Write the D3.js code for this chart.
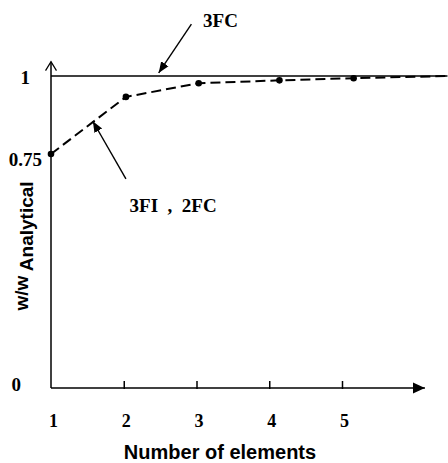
<!DOCTYPE html>
<html>
<head>
<meta charset="utf-8">
<script src="https://cdn.jsdelivr.net/npm/d3@7"></script>
<style>
  body { margin: 0; background: #fff; }
  .serif { font-family: "Liberation Serif", "Times New Roman", serif; font-weight: bold; }
  .sans { font-family: "Liberation Sans", Arial, sans-serif; font-weight: bold; }
</style>
</head>
<body>
<div id="chart"></div>
<script>
// values
var xTicks = [1, 2, 3, 4, 5];
var yTicks = [0, 0.75, 1];
var elements = [1, 2.03, 3.03, 4.14, 5.16];
var ratio3FI = [0.75, 0.933, 0.977, 0.986, 0.993];
var tailElement = 6.45;
var tailRatio = 1.0;
var ratio3FC = [1, 1];
var elements3FC = [1, 6.45];

var width = 448, height = 463;

var svg = d3.select("#chart")
    .append("svg")
    .attr("width", width)
    .attr("height", height);

var x = d3.scaleLinear().domain([1, 5]).range([51, 342]);
var y = d3.scaleLinear().domain([0, 1]).range([388, 76]);

var defs = svg.append("defs");
defs.append("marker")
    .attr("id", "filled")
    .attr("viewBox", "0 0 10 10")
    .attr("refX", 10).attr("refY", 5)
    .attr("markerWidth", 11).attr("markerHeight", 11)
    .attr("markerUnits", "userSpaceOnUse")
    .attr("orient", "auto")
    .append("path")
    .attr("d", "M0,1 L10,5 L0,9 Z")
    .attr("fill", "#000");
defs.append("marker")
    .attr("id", "bigfilled")
    .attr("viewBox", "0 0 12 12")
    .attr("refX", 12).attr("refY", 6)
    .attr("markerWidth", 12).attr("markerHeight", 12)
    .attr("markerUnits", "userSpaceOnUse")
    .attr("orient", "auto")
    .append("path")
    .attr("d", "M0,0.5 L12,6 L0,11.5 Z")
    .attr("fill", "#000");
defs.append("marker")
    .attr("id", "open")
    .attr("viewBox", "0 0 12 12")
    .attr("refX", 10).attr("refY", 6)
    .attr("markerWidth", 12).attr("markerHeight", 12)
    .attr("markerUnits", "userSpaceOnUse")
    .attr("orient", "auto")
    .append("path")
    .attr("d", "M1,0.5 L10,6 L1,11.5")
    .attr("fill", "none")
    .attr("stroke", "#000")
    .attr("stroke-width", 1.3);

// axis lines with arrows
svg.append("line")
    .attr("x1", x(1)).attr("y1", y(0))
    .attr("x2", x(1)).attr("y2", y(1.046))
    .attr("stroke", "#000").attr("stroke-width", 1.5)
    .attr("marker-end", "url(#open)");

svg.append("line")
    .attr("x1", x(1)).attr("y1", y(0))
    .attr("x2", x(6.14)).attr("y2", y(0))
    .attr("stroke", "#000").attr("stroke-width", 1.5)
    .attr("marker-end", "url(#bigfilled)");

// X axis ticks and labels
var xAxis = d3.axisBottom(x)
    .tickValues(xTicks)
    .tickSizeInner(-8)
    .tickSizeOuter(0)
    .tickPadding(25)
    .tickFormat(d3.format("d"));

var gx = svg.append("g")
    .attr("transform", "translate(0," + (y(0) + 1) + ")")
    .call(xAxis);
gx.select(".domain").remove();
gx.selectAll(".tick line").attr("stroke-width", 1.5)
    .attr("opacity", function(d) { return d === 1 ? 0 : 1; });
gx.selectAll(".tick text")
    .attr("class", "serif")
    .style("font-size", "18px")
    .attr("fill", "#000")
    .attr("dx", 2);

// Y axis labels (the scan puts them a bit uneven)
var yNudge = {0: [-13, -4], 0.75: [8, 5], 1: [-4, 1]};
var yAxis = d3.axisLeft(y)
    .tickValues(yTicks)
    .tickSize(0)
    .tickPadding(17)
    .tickFormat(String);

var gy = svg.append("g")
    .attr("transform", "translate(" + x(1) + ",0)")
    .call(yAxis);
gy.select(".domain").remove();
gy.selectAll(".tick text")
    .attr("class", "serif")
    .style("font-size", "19px")
    .attr("fill", "#000")
    .attr("dx", function(d) { return yNudge[d][0]; })
    .attr("dy", function(d) { return (0.32 * 19 + yNudge[d][1]) + "px"; });

// 3FC line
var line = d3.line()
    .x(function(d) { return x(d[0]); })
    .y(function(d) { return y(d[1]); });

svg.append("path")
    .datum(d3.zip(elements3FC, ratio3FC))
    .attr("d", line)
    .attr("fill", "none")
    .attr("stroke", "#000")
    .attr("stroke-width", 1.4);

// 3FI, 2FC dashed line
var fiData = d3.zip(elements, ratio3FI);
svg.append("path")
    .datum(fiData.concat([[tailElement, tailRatio]]))
    .attr("d", line)
    .attr("fill", "none")
    .attr("stroke", "#000")
    .attr("stroke-width", 2)
    .attr("stroke-dasharray", "10,5");

svg.selectAll("circle.pt")
    .data(fiData)
    .enter()
    .append("circle")
    .attr("class", "pt")
    .attr("cx", function(d) { return x(d[0]); })
    .attr("cy", function(d) { return y(d[1]); })
    .attr("r", 3.3)
    .attr("fill", "#000");

// annotations
svg.append("line")
    .attr("x1", x(2.93)).attr("y1", y(1.166))
    .attr("x2", x(2.48)).attr("y2", y(1.01))
    .attr("stroke", "#000").attr("stroke-width", 1.4)
    .attr("marker-end", "url(#filled)");

svg.append("text")
    .attr("class", "serif")
    .attr("x", x(3.09)).attr("y", y(1.157))
    .style("font-size", "19px")
    .text("3FC");

svg.append("line")
    .attr("x1", x(2.03)).attr("y1", y(0.67))
    .attr("x2", x(1.575)).attr("y2", y(0.855))
    .attr("stroke", "#000").attr("stroke-width", 1.4)
    .attr("marker-end", "url(#filled)");

svg.append("text")
    .attr("class", "serif")
    .attr("x", x(2.08)).attr("y", y(0.563))
    .style("font-size", "19px")
    .style("white-space", "pre")
    .text("3FI  ,  2FC");

// axis titles
svg.append("text")
    .attr("class", "sans")
    .attr("x", 220).attr("y", 459)
    .attr("text-anchor", "middle")
    .style("font-size", "20px")
    .text("Number of elements");

var yTitle = svg.append("text")
    .attr("class", "sans")
    .attr("transform", "translate(28,246) rotate(-90)")
    .attr("text-anchor", "middle")
    .style("font-size", "19px");
yTitle.append("tspan").text("w/w ");
yTitle.append("tspan").attr("dy", 5).text("Analytical");
</script>
</body>
</html>
